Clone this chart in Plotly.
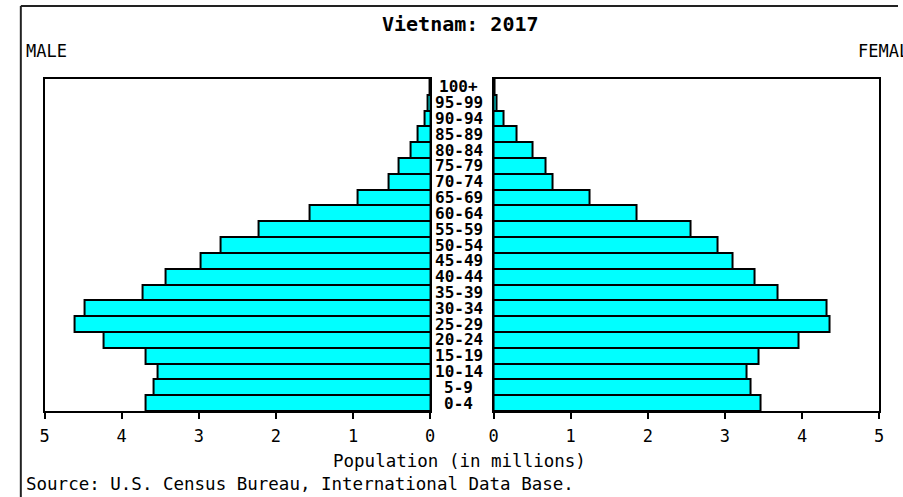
import plotly.graph_objects as go

ages = ["0-4", "5-9", "10-14", "15-19", "20-24", "25-29", "30-34", "35-39",
        "40-44", "45-49", "50-54", "55-59", "60-64", "65-69", "70-74", "75-79",
        "80-84", "85-89", "90-94", "95-99", "100+"]
male = [3.69, 3.59, 3.54, 3.69, 4.23, 4.61, 4.48, 3.73, 3.43, 2.98, 2.72,
        2.23, 1.56, 0.94, 0.54, 0.41, 0.25, 0.17, 0.07, 0.03, 0.01]
female = [3.46, 3.33, 3.28, 3.44, 3.95, 4.36, 4.32, 3.68, 3.38, 3.10, 2.91,
          2.55, 1.86, 1.24, 0.77, 0.68, 0.50, 0.30, 0.13, 0.04, 0.01]
ticks = [0, 1, 2, 3, 4, 5]
title = "Vietnam: 2017"
x_title = "Population (in millions)"
source = "Source: U.S. Census Bureau, International Data Base."

W, H = 903, 497
def px(x):
    return x / W
def py(y):
    return 1 - y / H

FONT = "DejaVu Sans Mono"
CYAN = "#00FFFF"

fig = go.Figure()
fig.add_trace(go.Bar(y=ages, x=male, orientation="h", xaxis="x", yaxis="y",
                     marker=dict(color=CYAN, line=dict(color="black", width=2)),
                     showlegend=False))
fig.add_trace(go.Bar(y=ages, x=female, orientation="h", xaxis="x2", yaxis="y2",
                     marker=dict(color=CYAN, line=dict(color="black", width=2)),
                     showlegend=False))

common_x = dict(showline=True, linecolor="black", linewidth=2, mirror=True,
                showgrid=False, zeroline=False, ticks="outside", ticklen=6,
                tickwidth=2, tickcolor="black", tickvals=ticks,
                ticktext=[str(t) for t in ticks],
                tickfont=dict(family=FONT, size=17, color="black"),
                ticklabelstandoff=3, fixedrange=True)
common_y = dict(showline=True, linecolor="black", linewidth=2, mirror=True,
                showgrid=False, zeroline=False, showticklabels=False, ticks="",
                type="category", categoryorder="array", categoryarray=ages,
                range=[-0.5, len(ages) - 0.5], fixedrange=True)

annotations = []
for a in ages:
    annotations.append(dict(x=px(459), xref="paper", y=a, yref="y",
                            text="<b>" + a + "</b>", showarrow=False,
                            xanchor="center", yanchor="middle",
                            font=dict(family=FONT, size=16, color="black")))
annotations += [
    dict(x=px(461), y=py(24), xref="paper", yref="paper", text="<b>" + title + "</b>",
         showarrow=False, xanchor="center", yanchor="middle",
         font=dict(family=FONT, size=20, color="black")),
    dict(x=px(19), y=py(51), xref="paper", yref="paper", text="MALE",
         showarrow=False, xanchor="left", yanchor="middle",
         font=dict(family=FONT, size=17, color="black")),
    dict(x=px(861), y=py(51), xref="paper", yref="paper", text="FEMALE",
         showarrow=False, xanchor="left", yanchor="middle",
         font=dict(family=FONT, size=17, color="black")),
    dict(x=px(460), y=py(461), xref="paper", yref="paper", text=x_title,
         showarrow=False, xanchor="center", yanchor="middle",
         font=dict(family=FONT, size=17.5, color="black")),
    dict(x=px(19), y=py(484), xref="paper", yref="paper", text=source,
         showarrow=False, xanchor="left", yanchor="middle",
         font=dict(family=FONT, size=17.5, color="black")),
]

fig.update_layout(
    width=W, height=H, margin=dict(l=0, r=0, t=0, b=0),
    paper_bgcolor="white", plot_bgcolor="white", bargap=0,
    xaxis=dict(domain=[px(40), px(430)], range=[5, 0], **common_x),
    xaxis2=dict(domain=[px(494), px(884)], range=[0, 5], **common_x),
    yaxis=dict(domain=[py(411), py(79)], anchor="x", **common_y),
    yaxis2=dict(domain=[py(411), py(79)], anchor="x2", **common_y),
    annotations=annotations,
    shapes=[
        dict(type="line", xref="paper", yref="paper", x0=px(16), x1=1.0,
             y0=py(6), y1=py(6), line=dict(color="#222", width=2)),
        dict(type="line", xref="paper", yref="paper", x0=px(16), x1=px(16),
             y0=py(6), y1=0, line=dict(color="#222", width=2)),
    ],
)

fig.write_html("out.html", config={"displayModeBar": False},
               post_script="document.body.style.margin='0';"
                           "document.body.style.overflow='hidden';")
